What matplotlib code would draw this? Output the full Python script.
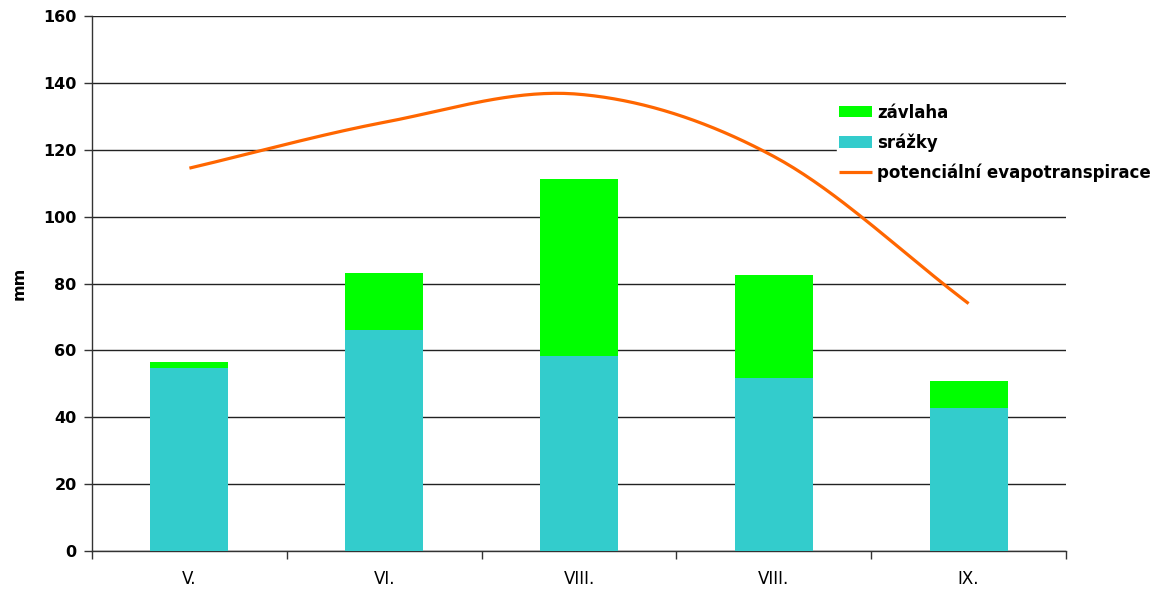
"""Monthly water balance: precipitation + irrigation vs. potential evapotranspiration."""

import numpy as np
import matplotlib
matplotlib.use("Agg")
import matplotlib.pyplot as plt

plt.rcParams["font.family"] = ["DejaVu Sans"]

months = ["V.", "VI.", "VIII.", "VIII.", "IX."]
srazky = [54.7, 66.2, 58.4, 51.7, 42.7]
zavlaha = [1.7, 16.8, 52.9, 30.9, 8.1]
evapotranspirace = [114.5, 128.2, 136.6, 118.0, 74.0]

TEAL = "#33CCCC"
GREEN = "#00FF00"
ORANGE = "#FF6600"


def smooth(xs, ys, n=40):
    """Catmull-Rom spline through the points, like a spreadsheet's smoothed line."""
    xs = np.asarray(xs, float)
    ys = np.asarray(ys, float)
    px = np.concatenate([[2 * xs[0] - xs[1]], xs, [2 * xs[-1] - xs[-2]]])
    py = np.concatenate([[2 * ys[0] - ys[1]], ys, [2 * ys[-1] - ys[-2]]])
    out_x, out_y = [], []
    t = np.linspace(0, 1, n)
    for i in range(1, len(px) - 2):
        p0, p1, p2, p3 = px[i - 1], px[i], px[i + 1], px[i + 2]
        q0, q1, q2, q3 = py[i - 1], py[i], py[i + 1], py[i + 2]
        c1x, c1y = p1 + (p2 - p0) / 6, q1 + (q2 - q0) / 6
        c2x, c2y = p2 - (p3 - p1) / 6, q2 - (q3 - q1) / 6
        b = [(1 - t) ** 3, 3 * (1 - t) ** 2 * t, 3 * (1 - t) * t ** 2, t ** 3]
        out_x.append(b[0] * p1 + b[1] * c1x + b[2] * c2x + b[3] * p2)
        out_y.append(b[0] * q1 + b[1] * c1y + b[2] * c2y + b[3] * q2)
    return np.concatenate(out_x), np.concatenate(out_y)


fig = plt.figure(figsize=(11.6, 5.91), dpi=100)
ax = fig.add_axes([92 / 1160, 40 / 591, (1066 - 92) / 1160, (551 - 16) / 591])

x = np.arange(len(months))
b_srazky = ax.bar(x, srazky, width=0.4, color=TEAL, zorder=3)
b_zavlaha = ax.bar(x, zavlaha, width=0.4, bottom=srazky, color=GREEN, zorder=3)
sx, sy = smooth(x, evapotranspirace)
(ln,) = ax.plot(sx, sy, color=ORANGE, lw=2.3, zorder=4, solid_capstyle="butt")

ax.set_xlim(-0.5, len(months) - 0.5)
ax.set_ylim(0, 160)
ax.set_yticks(range(0, 161, 20))
ax.set_xticks(x, months)
ax.set_xticks(np.arange(-0.5, len(months), 1.0), minor=True)
ax.tick_params(axis="x", which="major", length=0, pad=14, labelsize=12)
ax.tick_params(axis="x", which="minor", length=6, width=1, color="#333333")
ax.tick_params(axis="y", length=6, width=1, color="#333333", labelsize=11.5, pad=5)
for lbl in ax.get_yticklabels():
    lbl.set_fontweight("bold")

ax.grid(axis="y", color="#222222", lw=1, zorder=1)
ax.set_axisbelow(True)
for side in ("top", "right"):
    ax.spines[side].set_visible(False)
for side in ("left", "bottom"):
    ax.spines[side].set_color("#333333")
    ax.spines[side].set_linewidth(1)

ax.set_ylabel("mm", fontsize=11.5, fontweight="bold", labelpad=12)

leg = fig.legend([b_zavlaha, b_srazky, ln],
                 ["závlaha", "srážky", "potenciální evapotranspirace"],
                 loc="upper left", bbox_to_anchor=(837 / 1160, 1 - 102 / 591),
                 frameon=True, facecolor="white", edgecolor="white", framealpha=1,
                 prop={"weight": "bold", "size": 12},
                 handlelength=2.0, handleheight=0.65, handletextpad=0.3,
                 labelspacing=0.7, borderpad=0.1, borderaxespad=0)
leg.set_zorder(10)

fig.savefig("out.png", dpi=100)
